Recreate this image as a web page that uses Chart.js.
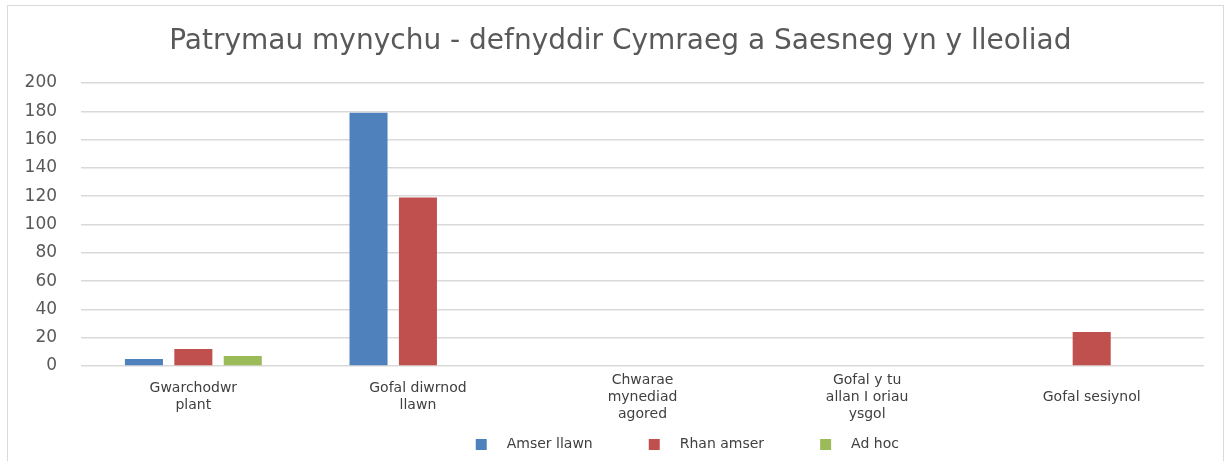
<!DOCTYPE html>
<html>
<head>
<meta charset="utf-8">
<script src="https://cdn.jsdelivr.net/npm/chart.js@4.4.0/dist/chart.umd.min.js"></script>
<style>
  body { margin: 0; background: #fff; }
  #frame { position: absolute; left: 7px; top: 5px; width: 1215px; height: 470px; border: 1px solid #d9d9d9; }
  #wrap { position: absolute; left: 0; top: 0; width: 1232px; height: 461px; }
</style>
</head>
<body>
<div id="frame"></div>
<div id="wrap"><canvas id="chart"></canvas></div>
<script>
const categories = [
    ['Gwarchodwr', 'plant'],
    ['Gofal diwrnod', 'llawn'],
    ['Chwarae', 'mynediad', 'agored'],
    ['Gofal y tu', 'allan I oriau', 'ysgol'],
    'Gofal sesiynol'
];
const seriesNames = ['Amser llawn', 'Rhan amser', 'Ad hoc'];
const amserLlawn = [5, 179, 0, 0, 0];
const rhanAmser = [12, 119, 0, 0, 24];
const adHoc = [7, 0, 0, 0, 0];
const yTicks = [0, 20, 40, 60, 80, 100, 120, 140, 160, 180, 200];

const colours = ['#4F81BD', '#C0504D', '#9BBB59'];
const font = '"DejaVu Sans", sans-serif';

// legend marker: small square with empty room on both sides
const markerLeft = 56, markerSize = 11, markerRight = 13;
const markerWidth = markerLeft + markerSize + markerRight;
const makeMarker = colour => {
    const c = document.createElement('canvas');
    c.width = markerWidth;
    c.height = markerSize;
    const g = c.getContext('2d');
    g.fillStyle = colour;
    g.fillRect(markerLeft, 0, markerSize, markerSize);
    return c;
};
const markers = colours.map(makeMarker);

// nudge title and legend sideways, like the original
const shiftBoxes = {
    id: 'shiftBoxes',
    afterLayout(chart) {
        chart.legend.left += 57;
        chart.legend.right += 57;
        chart.titleBlock.left += 18;
        chart.titleBlock.right += 18;
    }
};

const data = {
    labels: categories,
    datasets: [amserLlawn, rhanAmser, adHoc].map((values, i) => ({
        label: seriesNames[i],
        data: values,
        backgroundColor: colours[i],
        borderWidth: 0,
        categoryPercentage: 0.66,
        barPercentage: 0.77
    }))
};

const config = {
    type: 'bar',
    data: data,
    options: {
        responsive: true,
        maintainAspectRatio: false,
        animation: false,
        layout: { padding: { left: 0.6, right: 28, top: 0, bottom: 0 } },
        plugins: {
            title: {
                display: true,
                text: 'Patrymau mynychu - defnyddir Cymraeg a Saesneg yn y lleoliad',
                color: '#595959',
                font: { family: font, size: 28, weight: 'normal', lineHeight: 1.2 },
                padding: { top: 25, bottom: 24.4 }
            },
            legend: {
                position: 'bottom',
                labels: {
                    usePointStyle: true,
                    pointStyleWidth: markerWidth,
                    boxHeight: markerSize,
                    padding: 0,
                    color: '#404040',
                    font: { family: font, size: 14 },
                    generateLabels: chart => {
                        const items = Chart.defaults.plugins.legend.labels.generateLabels(chart);
                        items.forEach((item, i) => { item.pointStyle = markers[i]; });
                        return items;
                    }
                }
            },
            tooltip: { enabled: false }
        },
        scales: {
            x: {
                grid: { display: false },
                border: { display: false },
                ticks: {
                    color: '#404040',
                    maxRotation: 0,
                    autoSkip: false,
                    padding: 6,
                    crossAlign: 'center',
                    font: { family: font, size: 14, lineHeight: 17 / 14 }
                }
            },
            y: {
                min: yTicks[0],
                max: yTicks[yTicks.length - 1],
                grid: { color: '#d9d9d9', lineWidth: 1.5, drawTicks: false },
                border: { display: false },
                afterBuildTicks: axis => { axis.ticks = yTicks.map(v => ({ value: v })); },
                ticks: {
                    color: '#595959',
                    padding: 24,
                    autoSkip: false,
                    font: { family: font, size: 17 }
                }
            }
        }
    },
    plugins: [shiftBoxes]
};

new Chart(document.getElementById('chart'), config);
</script>
</body>
</html>
